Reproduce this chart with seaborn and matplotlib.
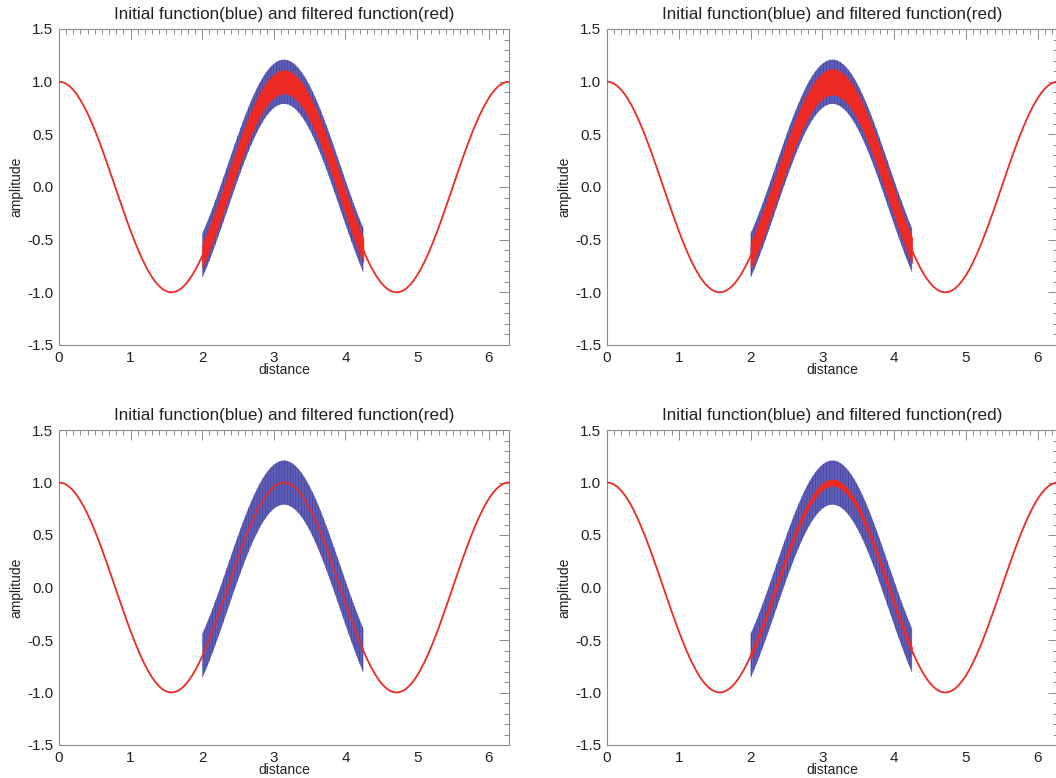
import matplotlib
matplotlib.use("Agg")
import matplotlib.pyplot as plt
from matplotlib.ticker import MultipleLocator, FormatStrFormatter
import numpy as np
import seaborn as sns

# --------- Datos ---------

# funcion filtrada (roja), muestreada cada 0.05 en distancia
dist = [round(0.05 * k, 2) for k in range(127)]
red_amp = [1.0000, 0.9950, 0.9801, 0.9553, 0.9211, 0.8776, 0.8253, 0.7648, 0.6967, 0.6216,
           0.5403, 0.4536, 0.3624, 0.2675, 0.1700, 0.0707, -0.0292, -0.1288, -0.2272, -0.3233,
           -0.4161, -0.5048, -0.5885, -0.6663, -0.7374, -0.8011, -0.8569, -0.9041, -0.9422, -0.9710,
           -0.9900, -0.9991, -0.9983, -0.9875, -0.9668, -0.9365, -0.8968, -0.8481, -0.7910, -0.7259,
           -0.6536, -0.5748, -0.4903, -0.4008, -0.3073, -0.2108, -0.1122, -0.0124, 0.0875, 0.1865,
           0.2837, 0.3780, 0.4685, 0.5544, 0.6347, 0.7087, 0.7756, 0.8347, 0.8855, 0.9275,
           0.9602, 0.9833, 0.9965, 0.9999, 0.9932, 0.9766, 0.9502, 0.9144, 0.8694, 0.8157,
           0.7539, 0.6845, 0.6084, 0.5261, 0.4385, 0.3466, 0.2513, 0.1534, 0.0540, -0.0460,
           -0.1455, -0.2435, -0.3392, -0.4314, -0.5193, -0.6020, -0.6787, -0.7486, -0.8111, -0.8654,
           -0.9111, -0.9477, -0.9748, -0.9922, -0.9997, -0.9972, -0.9847, -0.9624, -0.9304, -0.8892,
           -0.8391, -0.7806, -0.7143, -0.6410, -0.5614, -0.4755, -0.3857, -0.2913, -0.1944, -0.0955,
           0.0044, 0.1042, 0.2030, 0.2997, 0.3935, 0.4832, 0.5683, 0.6474, 0.7202, 0.7861,
           0.8439, 0.8932, 0.9336, 0.9647, 0.9862, 0.9978, 0.9994]

# tramo con ruido: de distancia 2.00 a 4.25
band_start, band_end = 2.0, 4.25

# semianchura del ruido azul y del rojo en cada panel
blue_half = 0.21
red_half = [0.11, 0.12, 0.0, 0.03]

titles = ["Initial function(blue) and filtered function(red)"] * 4

# --------- Figura ---------

sns.set_theme(style="white")
plt.rcParams["font.family"] = ["Liberation Sans", "DejaVu Sans"]
plt.rcParams["hatch.linewidth"] = 0.5

fig = plt.figure(figsize=(10.56, 7.78), dpi=100)

W, H = 1056, 778
boxes = [(59, 29, 509, 345), (607, 29, 1058, 345),
         (59, 430, 509, 745), (607, 430, 1058, 745)]

gray = "#8c8c8c"
red = "#ee2a24"
blue = "#6060b8"

dx = np.array(dist)
dy = np.array(red_amp)
sel = (dx >= band_start - 1e-9) & (dx <= band_end + 1e-9)
bx, bc = dx[sel], dy[sel]

for i, (x0, y0, x1, y1) in enumerate(boxes):
    ax = fig.add_axes([x0 / W, 1 - y1 / H, (x1 - x0) / W, (y1 - y0) / H])

    # funcion inicial con ruido
    ax.fill_between(bx, bc - blue_half, bc + blue_half, facecolor=blue,
                    edgecolor="#40409e", hatch="||||||", linewidth=0, zorder=2)

    # funcion filtrada
    sns.lineplot(x=dist, y=red_amp, ax=ax, color=red, linewidth=1.3, zorder=3)
    if red_half[i] > 0:
        ax.fill_between(bx, bc - red_half[i], bc + red_half[i], facecolor=red,
                        edgecolor=red, linewidth=0.5, zorder=4)

    ax.set_xlim(0, 2 * np.pi)
    ax.set_ylim(-1.5, 1.5)
    ax.xaxis.set_major_locator(MultipleLocator(1))
    ax.xaxis.set_minor_locator(MultipleLocator(0.1))
    ax.yaxis.set_major_locator(MultipleLocator(0.5))
    ax.yaxis.set_minor_locator(MultipleLocator(0.1))
    ax.yaxis.set_major_formatter(FormatStrFormatter("%.1f"))

    ax.tick_params(which="both", direction="in", top=True, right=True,
                   colors=gray, labelcolor="#222222", labelsize=11, width=0.7)
    ax.tick_params(which="major", length=7, pad=4)
    ax.tick_params(which="minor", length=3.5)
    for s in ax.spines.values():
        s.set_color(gray)
        s.set_linewidth(0.8)

    ax.set_xlabel("distance", fontsize=10, color="#222222", labelpad=-1)
    ax.set_ylabel("amplitude", fontsize=10, color="#222222", labelpad=3)
    ax.set_title(titles[i], fontsize=12.3, color="#222222", pad=7)

fig.savefig("out.png", dpi=100)
